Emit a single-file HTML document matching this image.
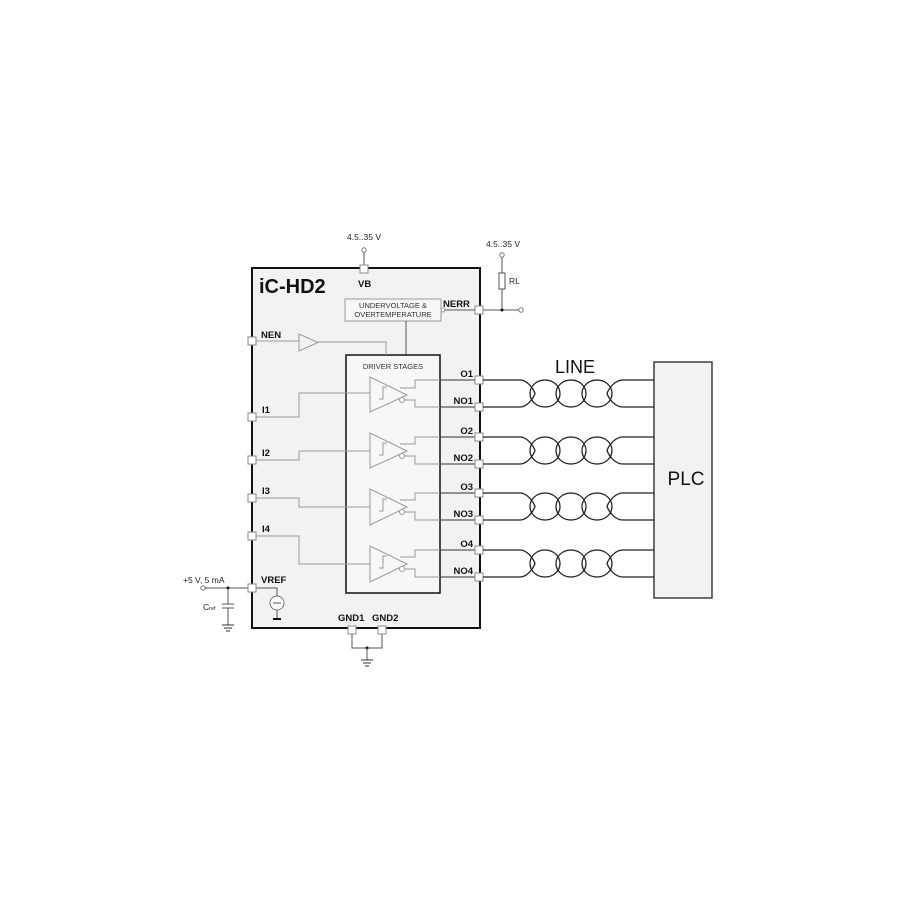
<!DOCTYPE html>
<html><head><style>body{margin:0;background:#fff}svg{display:block}text{font-family:"Liberation Sans",Arial,sans-serif}</style></head><body>
<svg width="900" height="900" viewBox="0 0 900 900" xmlns="http://www.w3.org/2000/svg">
<rect x="0" y="0" width="900" height="900" fill="#fff"/>
<rect x="252" y="268" width="228" height="360" fill="#f2f2f2" stroke="#111" stroke-width="2"/>
<text x="259" y="293" font-size="20" font-weight="bold" fill="#111">iC-HD2</text>
<rect x="345" y="299" width="96" height="22" fill="#f7f7f7" stroke="#999" stroke-width="1"/>
<text x="393" y="308" font-size="7.5" text-anchor="middle" fill="#333">UNDERVOLTAGE &amp;</text>
<text x="393" y="317" font-size="7.5" text-anchor="middle" fill="#333">OVERTEMPERATURE</text>
<line x1="406" y1="321" x2="406" y2="355" stroke="#555"/>
<circle cx="443" cy="310" r="2" fill="#fff" stroke="#999"/>
<line x1="445" y1="310" x2="479" y2="310" stroke="#555"/>
<rect x="346" y="355" width="94" height="238" fill="#f7f7f7" stroke="#111" stroke-width="1.5"/>
<text x="393" y="369" font-size="7.5" text-anchor="middle" fill="#333">DRIVER STAGES</text>
<line x1="254" y1="341" x2="299" y2="341" stroke="#999"/>
<polygon points="299,334 299,351 318,342.5" fill="none" stroke="#999"/>
<polyline points="318,342 386,342 386,355" fill="none" stroke="#999"/>
<g fill="none" stroke="#999">
<polyline points="254,417 299,417 299,393 370,393"/>
<polyline points="254,460 299,460 299,451 370,451"/>
<polyline points="254,498 299,498 299,507 370,507"/>
<polyline points="254,536 299,536 299,564 370,564"/>
</g>
<g fill="none" stroke="#999">
<polygon points="370,377 370,412 407,395"/>
<polygon points="370,433 370,468 407,451"/>
<polygon points="370,489 370,525 407,507"/>
<polygon points="370,546 370,582 407,564"/>
<circle cx="402" cy="400" r="2.5" fill="#fff"/>
<circle cx="402" cy="456" r="2.5" fill="#fff"/>
<circle cx="402" cy="512" r="2.5" fill="#fff"/>
<circle cx="402" cy="569" r="2.5" fill="#fff"/>
<polyline points="379,399 383,399 383,387 387,387"/>
<polyline points="379,455 383,455 383,443 387,443"/>
<polyline points="379,511 383,511 383,499 387,499"/>
<polyline points="379,568 383,568 383,556 387,556"/>
<polyline points="400,388 415,388 415,380 440,380"/>
<polyline points="405,400 415,400 415,407 440,407"/>
<polyline points="400,444 415,444 415,437 440,437"/>
<polyline points="405,456 415,456 415,464 440,464"/>
<polyline points="400,500 415,500 415,493 440,493"/>
<polyline points="405,512 415,512 415,520 440,520"/>
<polyline points="400,557 415,557 415,550 440,550"/>
<polyline points="405,569 415,569 415,577 440,577"/>
</g>
<g stroke="#333" fill="none">
<line x1="440" y1="380" x2="479" y2="380"/><line x1="440" y1="407" x2="479" y2="407"/>
<line x1="440" y1="437" x2="479" y2="437"/><line x1="440" y1="464" x2="479" y2="464"/>
<line x1="440" y1="493" x2="479" y2="493"/><line x1="440" y1="520" x2="479" y2="520"/>
<line x1="440" y1="550" x2="479" y2="550"/><line x1="440" y1="577" x2="479" y2="577"/>
</g>
<g font-size="9.5" font-weight="bold" fill="#111">
<text x="358" y="287">VB</text>
<text x="443" y="307">NERR</text>
<text x="261" y="338">NEN</text>
<text x="262" y="413">I1</text>
<text x="262" y="456">I2</text>
<text x="262" y="494">I3</text>
<text x="262" y="532">I4</text>
<text x="261" y="583">VREF</text>
<text x="473" y="377" text-anchor="end">O1</text>
<text x="473" y="404" text-anchor="end">NO1</text>
<text x="473" y="434" text-anchor="end">O2</text>
<text x="473" y="461" text-anchor="end">NO2</text>
<text x="473" y="490" text-anchor="end">O3</text>
<text x="473" y="517" text-anchor="end">NO3</text>
<text x="473" y="547" text-anchor="end">O4</text>
<text x="473" y="574" text-anchor="end">NO4</text>
<text x="338" y="621">GND1</text>
<text x="372" y="621">GND2</text>
</g>
<text x="364" y="240" font-size="8.5" text-anchor="middle" fill="#222">4.5..35 V</text>
<circle cx="364" cy="250" r="2.2" fill="#fff" stroke="#777"/>
<line x1="364" y1="252" x2="364" y2="266" stroke="#555"/>
<text x="503" y="247" font-size="8.5" text-anchor="middle" fill="#222">4.5..35 V</text>
<circle cx="502" cy="255" r="2.2" fill="#fff" stroke="#777"/>
<line x1="502" y1="257" x2="502" y2="273" stroke="#555"/>
<rect x="499" y="273" width="6" height="16" fill="#fff" stroke="#555"/>
<text x="509" y="284" font-size="8.5" fill="#222">RL</text>
<line x1="502" y1="289" x2="502" y2="310" stroke="#555"/>
<line x1="481" y1="310" x2="519" y2="310" stroke="#555"/>
<circle cx="502" cy="310" r="1.5" fill="#111"/>
<circle cx="521" cy="310" r="2.2" fill="#fff" stroke="#777"/>
<text x="183" y="583" font-size="8.5" fill="#222">+5 V, 5 mA</text>
<circle cx="203" cy="588" r="2.2" fill="#fff" stroke="#777"/>
<line x1="205" y1="588" x2="252" y2="588" stroke="#555"/>
<circle cx="228" cy="588" r="1.5" fill="#111"/>
<line x1="228" y1="588" x2="228" y2="604" stroke="#555"/>
<line x1="222" y1="604" x2="234" y2="604" stroke="#555"/>
<line x1="222" y1="608" x2="234" y2="608" stroke="#555"/>
<line x1="228" y1="608" x2="228" y2="625" stroke="#555"/>
<line x1="222" y1="625" x2="234" y2="625" stroke="#333"/>
<line x1="224" y1="628" x2="232" y2="628" stroke="#333"/>
<line x1="226" y1="631" x2="230" y2="631" stroke="#333"/>
<text x="203" y="610" font-size="8.5" fill="#222">C<tspan font-size="5.5">ref</tspan></text>
<polyline points="254,588 277,588 277,596" fill="none" stroke="#555"/>
<circle cx="277" cy="603" r="7" fill="#fff" stroke="#777"/>
<line x1="273" y1="603" x2="281" y2="603" stroke="#555"/>
<line x1="277" y1="610" x2="277" y2="618" stroke="#555"/>
<line x1="273" y1="619" x2="281" y2="619" stroke="#111" stroke-width="2"/>
<polyline points="352,632 352,648 382,648 382,632" fill="none" stroke="#555"/>
<circle cx="367" cy="648" r="1.5" fill="#111"/>
<line x1="367" y1="648" x2="367" y2="660" stroke="#555"/>
<line x1="361" y1="660" x2="373" y2="660" stroke="#333"/>
<line x1="363" y1="663" x2="371" y2="663" stroke="#333"/>
<line x1="365" y1="666" x2="369" y2="666" stroke="#333"/>
<g fill="#fff" stroke="#888" stroke-width="1">
<rect x="360" y="265" width="8" height="8"/>
<rect x="475" y="306" width="8" height="8"/>
<rect x="248" y="337" width="8" height="8"/>
<rect x="248" y="413" width="8" height="8"/>
<rect x="248" y="456" width="8" height="8"/>
<rect x="248" y="494" width="8" height="8"/>
<rect x="248" y="532" width="8" height="8"/>
<rect x="248" y="584" width="8" height="8"/>
<rect x="475" y="376" width="8" height="8"/><rect x="475" y="403" width="8" height="8"/>
<rect x="475" y="433" width="8" height="8"/><rect x="475" y="460" width="8" height="8"/>
<rect x="475" y="489" width="8" height="8"/><rect x="475" y="516" width="8" height="8"/>
<rect x="475" y="546" width="8" height="8"/><rect x="475" y="573" width="8" height="8"/>
<rect x="348" y="626" width="8" height="8"/><rect x="378" y="626" width="8" height="8"/>
</g>
<text x="575" y="373" font-size="18" text-anchor="middle" fill="#111">LINE</text>
<g fill="none" stroke="#222" stroke-width="1.3">
<g id="tp1">
<path d="M483,380 H520 C527,380 533,388 535,393.5 C533,399 527,407 520,407 H483"/>
<ellipse cx="545" cy="393.5" rx="15" ry="13.5"/>
<ellipse cx="571" cy="393.5" rx="15" ry="13.5"/>
<ellipse cx="597" cy="393.5" rx="15" ry="13.5"/>
<path d="M654,380 H623 C615,380 609,388 607,393.5 C609,399 615,407 623,407 H654"/>
</g>
<use href="#tp1" transform="translate(0,57)"/>
<use href="#tp1" transform="translate(0,113)"/>
<use href="#tp1" transform="translate(0,170)"/>
</g>
<rect x="654" y="362" width="58" height="236" fill="#f2f2f2" stroke="#222" stroke-width="1.3"/>
<text x="686" y="485" font-size="19" text-anchor="middle" fill="#111">PLC</text>
</svg>
</body></html>
